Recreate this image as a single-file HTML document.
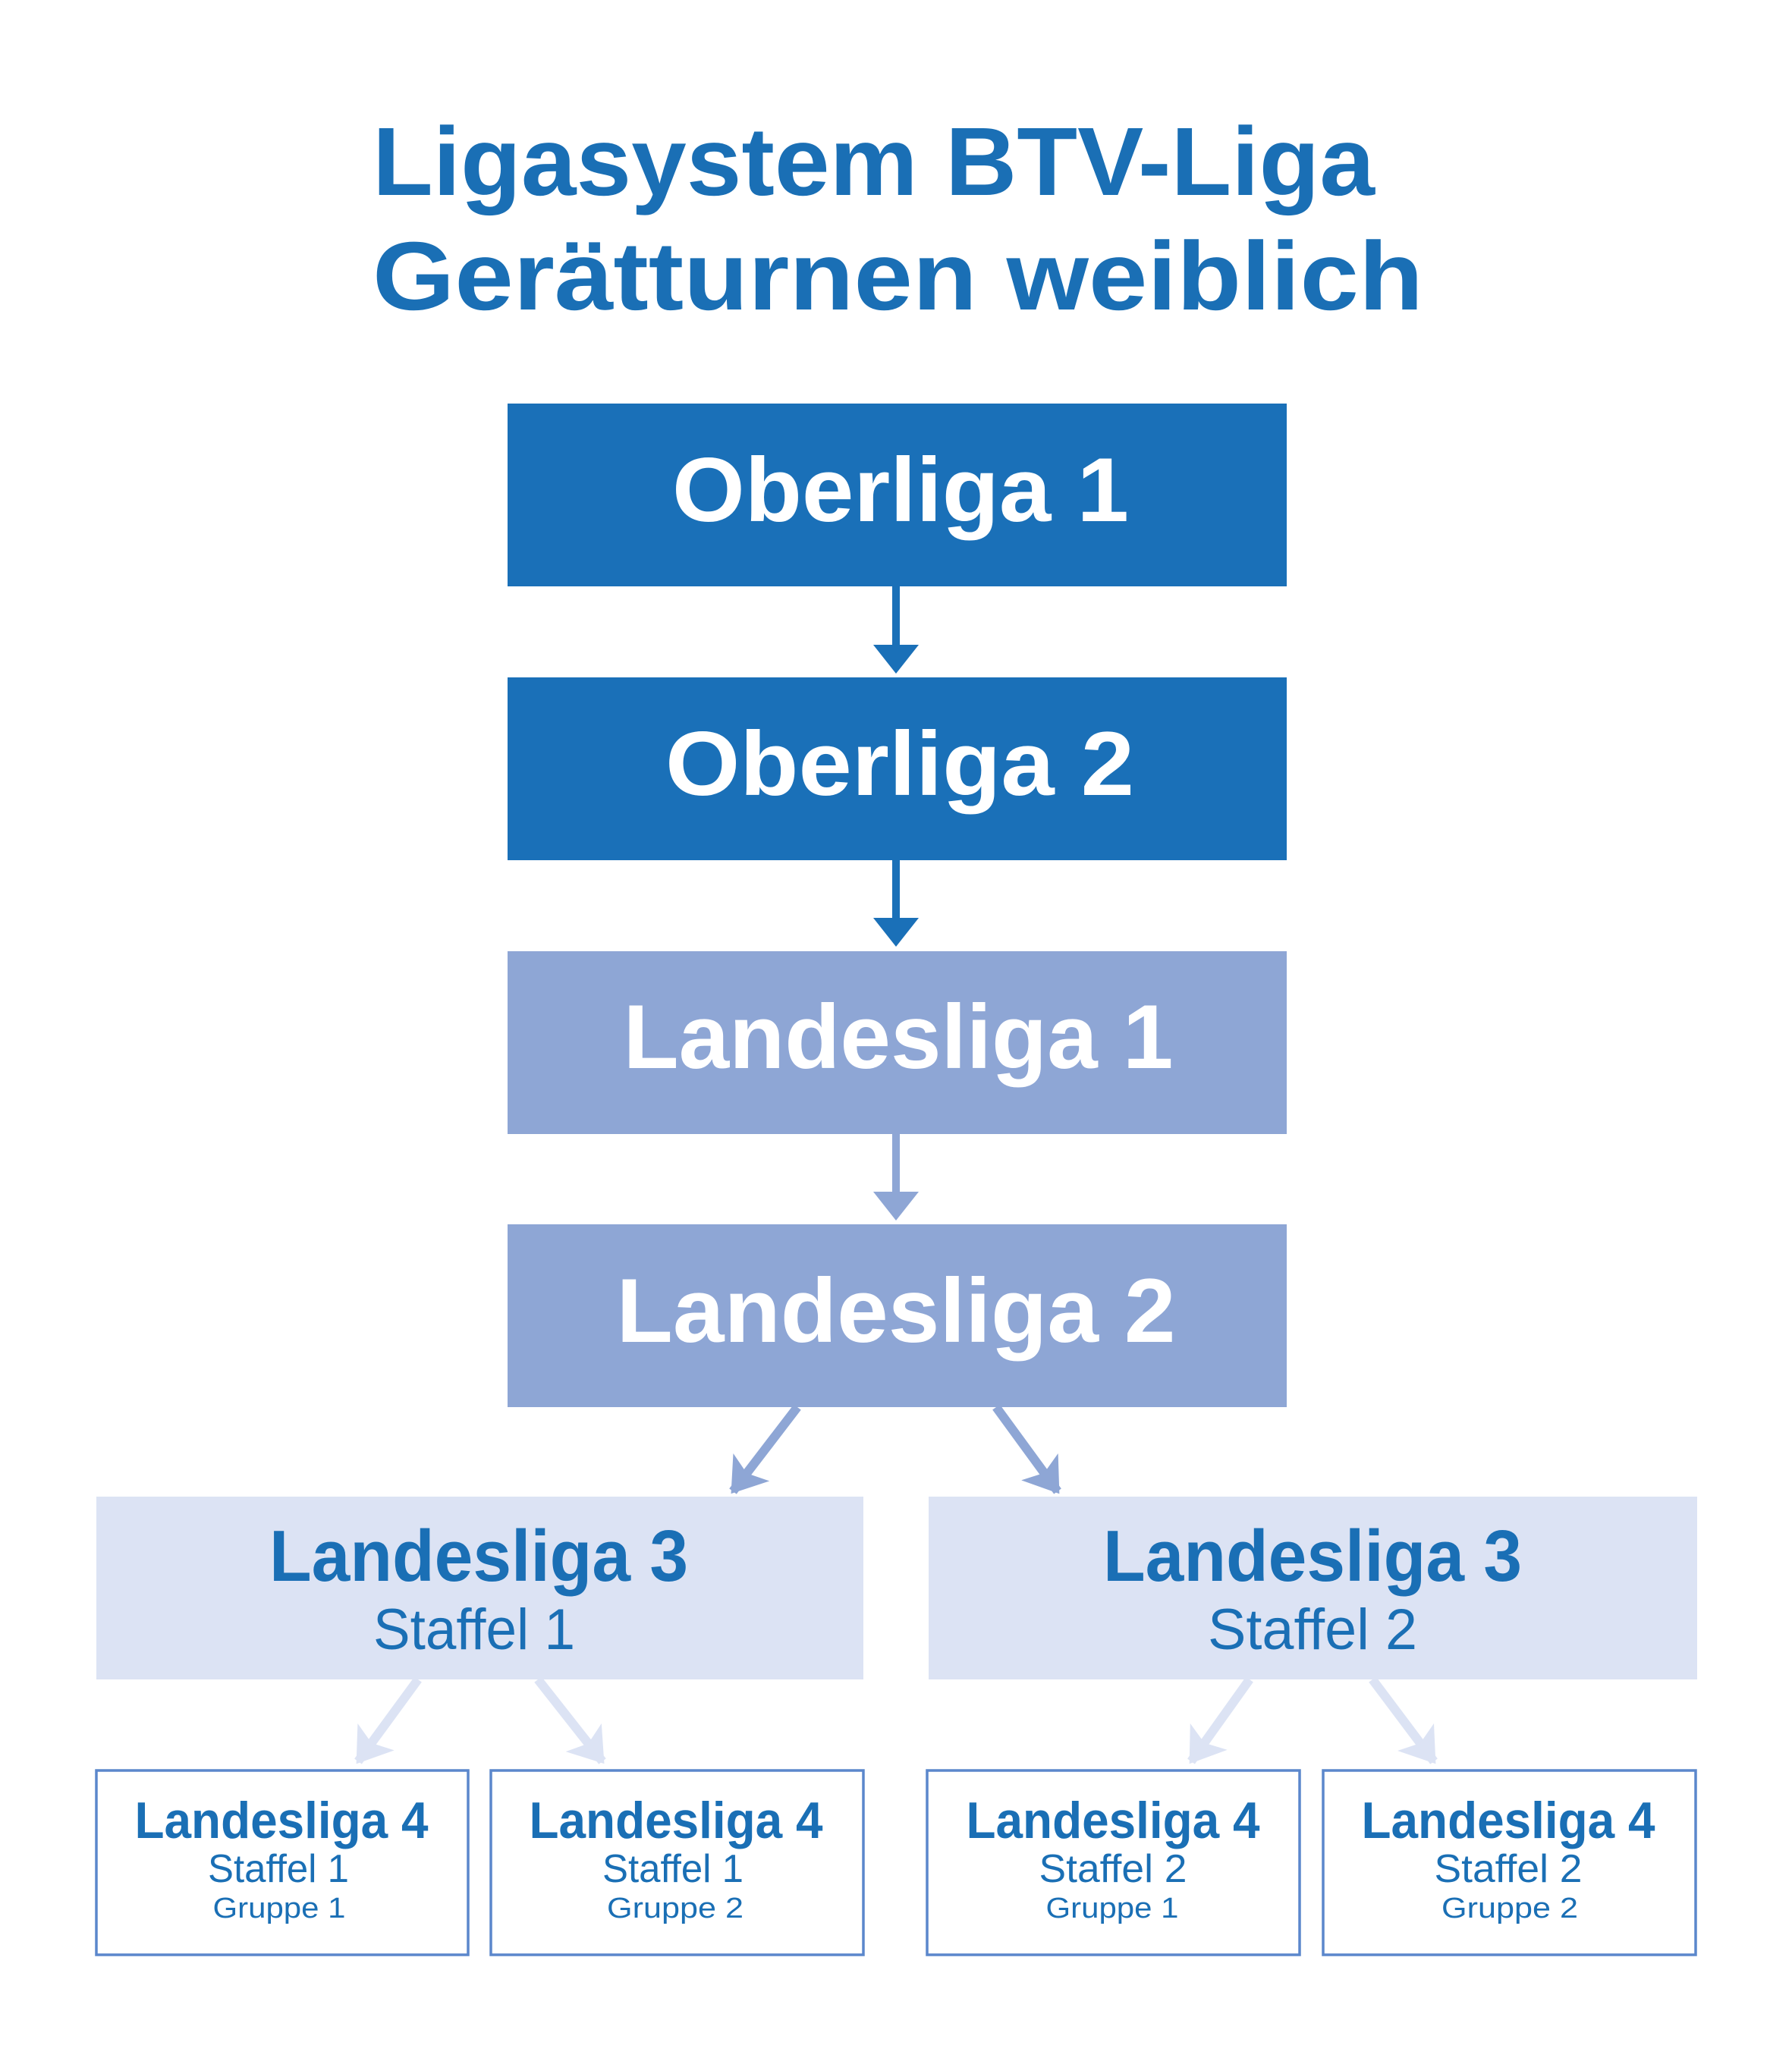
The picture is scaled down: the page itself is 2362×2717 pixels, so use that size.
<!DOCTYPE html>
<html><head><meta charset="utf-8"><style>html,body{margin:0;padding:0;background:#fff}svg{display:block}</style></head>
<body>
<svg width="2362" height="2717" viewBox="0 0 2362 2717" xmlns="http://www.w3.org/2000/svg" font-family="Liberation Sans, sans-serif">
<rect width="2362" height="2717" fill="#fff"/>
<g fill="#1a6fb5" font-weight="bold" font-size="128">
<text x="491" y="257" textLength="1321" lengthAdjust="spacingAndGlyphs">Ligasystem BTV-Liga</text>
<text x="491" y="408" textLength="1385" lengthAdjust="spacingAndGlyphs">Gerätturnen weiblich</text>
</g>
<rect x="669" y="532" width="1027" height="241" fill="#1a70b8"/>
<rect x="669" y="893" width="1027" height="241" fill="#1a70b8"/>
<rect x="669" y="1254" width="1027" height="241" fill="#8ea6d5"/>
<rect x="669" y="1614" width="1027" height="241" fill="#8ea6d5"/>
<g fill="#fff" font-weight="bold" font-size="120" text-anchor="middle">
<text x="1187" y="687" textLength="602" lengthAdjust="spacingAndGlyphs">Oberliga 1</text>
<text x="1186" y="1048" textLength="618" lengthAdjust="spacingAndGlyphs">Oberliga 2</text>
<text x="1184" y="1408" textLength="725" lengthAdjust="spacingAndGlyphs">Landesliga 1</text>
<text x="1181" y="1769" textLength="737" lengthAdjust="spacingAndGlyphs">Landesliga 2</text>
</g>
<g stroke-width="10">
<line x1="1181" y1="773" x2="1181" y2="855" stroke="#1a70b8"/>
<polygon points="1151,850 1211,850 1181,888" fill="#1a70b8" stroke="none"/>
<line x1="1181" y1="1134" x2="1181" y2="1215" stroke="#1a70b8"/>
<polygon points="1151,1210 1211,1210 1181,1248" fill="#1a70b8" stroke="none"/>
<line x1="1181" y1="1495" x2="1181" y2="1576" stroke="#8ea6d5"/>
<polygon points="1151,1571 1211,1571 1181,1609" fill="#8ea6d5" stroke="none"/>
</g>
<defs>
<marker id="m1" markerUnits="userSpaceOnUse" markerWidth="60" markerHeight="60" refX="40" refY="30" orient="auto"><polygon points="0,0 44,30 0,60 10,30" fill="#8ea6d5"/></marker>
<marker id="m2" markerUnits="userSpaceOnUse" markerWidth="60" markerHeight="60" refX="40" refY="30" orient="auto"><polygon points="0,0 44,30 0,60 10,30" fill="#dce3f4"/></marker>
</defs>
<g stroke-width="12">
<line x1="1051" y1="1855" x2="966" y2="1966" stroke="#8ea6d5" marker-end="url(#m1)"/>
<line x1="1313" y1="1855" x2="1394" y2="1966" stroke="#8ea6d5" marker-end="url(#m1)"/>
<line x1="551" y1="2214" x2="472" y2="2322" stroke="#dce3f4" marker-end="url(#m2)"/>
<line x1="709" y1="2214" x2="794" y2="2322" stroke="#dce3f4" marker-end="url(#m2)"/>
<line x1="1647" y1="2214" x2="1570" y2="2322" stroke="#dce3f4" marker-end="url(#m2)"/>
<line x1="1809" y1="2214" x2="1890" y2="2322" stroke="#dce3f4" marker-end="url(#m2)"/>
</g>
<rect x="127" y="1973" width="1011" height="241" fill="#dce3f4"/>
<rect x="1224" y="1973" width="1013" height="241" fill="#dce3f4"/>
<g fill="#1a6fb5" text-anchor="middle">
<text x="631" y="2084" font-size="96" font-weight="bold" textLength="552" lengthAdjust="spacingAndGlyphs">Landesliga 3</text>
<text x="625" y="2174" font-size="76" textLength="266" lengthAdjust="spacingAndGlyphs">Staffel 1</text>
<text x="1730" y="2084" font-size="96" font-weight="bold" textLength="552" lengthAdjust="spacingAndGlyphs">Landesliga 3</text>
<text x="1730" y="2174" font-size="76" textLength="276" lengthAdjust="spacingAndGlyphs">Staffel 2</text>
</g>
<g fill="#fff" stroke="#5b87cc" stroke-width="3.5">
<rect x="127" y="2334" width="490" height="243"/>
<rect x="647" y="2334" width="491" height="243"/>
<rect x="1222" y="2334" width="491" height="243"/>
<rect x="1744" y="2334" width="491" height="243"/>
</g>
<g fill="#1a6fb5" text-anchor="middle">
<text x="371" y="2423" font-size="68" font-weight="bold" textLength="387" lengthAdjust="spacingAndGlyphs">Landesliga 4</text>
<text x="367" y="2481" font-size="52" textLength="186" lengthAdjust="spacingAndGlyphs">Staffel 1</text>
<text x="368" y="2528" font-size="38" textLength="175" lengthAdjust="spacingAndGlyphs">Gruppe 1</text>
<text x="891" y="2423" font-size="68" font-weight="bold" textLength="387" lengthAdjust="spacingAndGlyphs">Landesliga 4</text>
<text x="887" y="2481" font-size="52" textLength="186" lengthAdjust="spacingAndGlyphs">Staffel 1</text>
<text x="890" y="2528" font-size="38" textLength="180" lengthAdjust="spacingAndGlyphs">Gruppe 2</text>
<text x="1467" y="2423" font-size="68" font-weight="bold" textLength="387" lengthAdjust="spacingAndGlyphs">Landesliga 4</text>
<text x="1467" y="2481" font-size="52" textLength="195" lengthAdjust="spacingAndGlyphs">Staffel 2</text>
<text x="1466" y="2528" font-size="38" textLength="175" lengthAdjust="spacingAndGlyphs">Gruppe 1</text>
<text x="1988" y="2423" font-size="68" font-weight="bold" textLength="387" lengthAdjust="spacingAndGlyphs">Landesliga 4</text>
<text x="1988" y="2481" font-size="52" textLength="195" lengthAdjust="spacingAndGlyphs">Staffel 2</text>
<text x="1990" y="2528" font-size="38" textLength="180" lengthAdjust="spacingAndGlyphs">Gruppe 2</text>
</g>
</svg>
</body></html>
